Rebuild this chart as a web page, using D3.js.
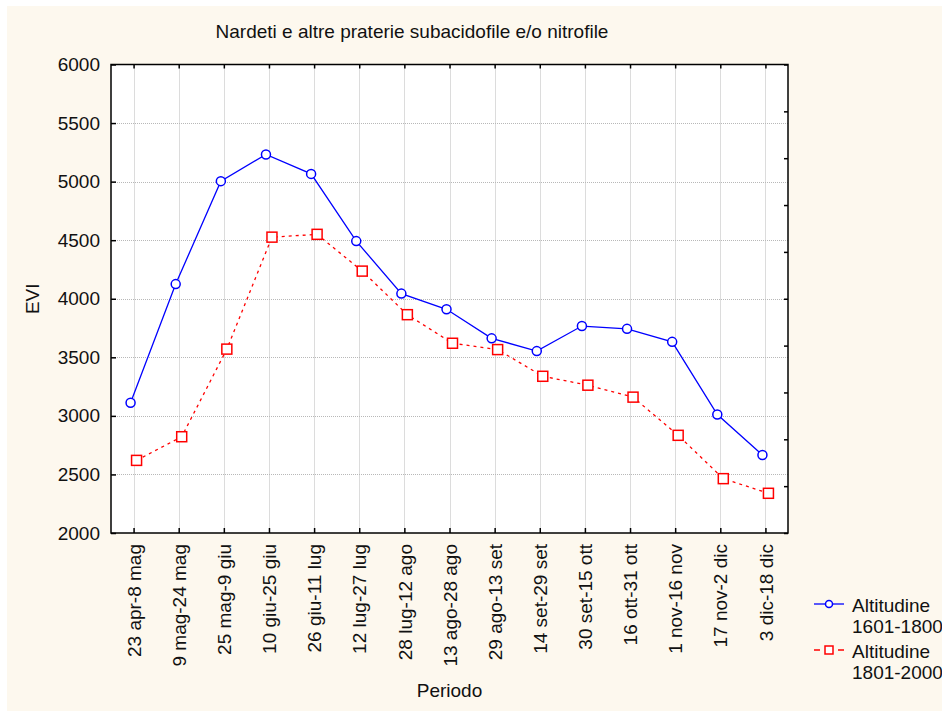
<!DOCTYPE html>
<html>
<head>
<meta charset="utf-8">
<script src="https://cdn.jsdelivr.net/npm/d3@7"></script>
<style>
	body { margin: 0; background: #fff; }
	svg text { font-family: "Liberation Sans", Arial, sans-serif; fill: #111; }
</style>
</head>
<body>
<svg id="chart" width="942" height="711"></svg>
<script>
var periods = ["23 apr-8 mag", "9 mag-24 mag", "25 mag-9 giu", "10 giu-25 giu", "26 giu-11 lug",
	"12 lug-27 lug", "28 lug-12 ago", "13 ago-28 ago", "29 ago-13 set", "14 set-29 set",
	"30 set-15 ott", "16 ott-31 ott", "1 nov-16 nov", "17 nov-2 dic", "3 dic-18 dic"];
var evi1601 = [3112, 4125, 5004, 5232, 5066, 4492, 4044, 3910, 3662, 3553, 3767, 3743, 3632, 3012, 2666];
var evi1801 = [2620, 2822, 3570, 4526, 4550, 4236, 3864, 3620, 3566, 3338, 3262, 3160, 2834, 2464, 2339];
var yTicks = [2000, 2500, 3000, 3500, 4000, 4500, 5000, 5500, 6000];

var svg = d3.select("#chart");
var plotLeft = 111, plotRight = 788, plotTop = 64.5, plotBottom = 533;

// cream background
svg.append("rect")
	.attr("x", 7).attr("y", 6)
	.attr("width", 942 - 7).attr("height", 711 - 6)
	.attr("fill", "#fdf8ee");

var x = d3.scalePoint().domain(periods).range([plotLeft, plotRight]).padding(0.5);
var y = d3.scaleLinear().domain([2000, 6000]).range([plotBottom, plotTop]);

svg.append("rect")
	.attr("x", plotLeft).attr("y", plotTop)
	.attr("width", plotRight - plotLeft).attr("height", plotBottom - plotTop)
	.attr("fill", "#fff");

// grid
var grid = svg.append("g").attr("stroke", "#b8b8b8").attr("stroke-dasharray", "1,1").attr("stroke-width", 1);
grid.selectAll("line.v")
	.data(periods)
	.enter()
	.append("line")
	.attr("x1", function(d) { return Math.round(x(d)) + 0.5; })
	.attr("x2", function(d) { return Math.round(x(d)) + 0.5; })
	.attr("y1", plotTop).attr("y2", plotBottom);
grid.selectAll("line.h")
	.data(yTicks.slice(1, -1))
	.enter()
	.append("line")
	.attr("y1", function(d) { return Math.round(y(d)) + 0.5; })
	.attr("y2", function(d) { return Math.round(y(d)) + 0.5; })
	.attr("x1", plotLeft).attr("x2", plotRight);

// axes
var yAxis = svg.append("g")
	.attr("transform", "translate(" + plotLeft + ",0)")
	.call(d3.axisLeft(y).tickValues(yTicks).tickFormat(d3.format("d")).tickSize(-5).tickPadding(11));
var xAxis = svg.append("g")
	.attr("transform", "translate(0," + plotBottom + ")")
	.call(d3.axisBottom(x).tickSize(-5));
[yAxis, xAxis].forEach(function(a) {
	a.select(".domain").remove();
	a.selectAll(".tick line").attr("stroke", "#000").attr("stroke-width", 1.5);
	a.selectAll(".tick text").attr("font-size", 19).attr("font-family", null);
});
xAxis.selectAll(".tick text")
	.attr("transform", "rotate(-90)")
	.attr("y", 0)
	.attr("x", -11)
	.attr("dy", "0.35em")
	.attr("text-anchor", "end");

// top ticks at categories, right ticks at tenths
svg.append("g")
	.attr("transform", "translate(0," + plotTop + ")")
	.call(d3.axisTop(x).tickSize(-4).tickFormat(""))
	.call(function(g) {
		g.select(".domain").remove();
		g.selectAll(".tick line").attr("stroke-width", 1.5);
	});
var rightScale = d3.scaleLinear().domain([0, 10]).range([plotBottom, plotTop]);
svg.append("g")
	.attr("transform", "translate(" + plotRight + ",0)")
	.call(d3.axisRight(rightScale).ticks(10).tickSize(-4).tickFormat(""))
	.call(function(g) {
		g.select(".domain").remove();
		g.selectAll(".tick line").attr("stroke-width", 1.5);
	});

svg.append("rect")
	.attr("x", plotLeft).attr("y", plotTop)
	.attr("width", plotRight - plotLeft).attr("height", plotBottom - plotTop)
	.attr("fill", "none")
	.attr("stroke", "#000")
	.attr("stroke-width", 1.5);

// series
var series = [
	{name: "1601-1800", values: evi1601, color: "#0000ff", dash: null, shape: "circle", dx: -3},
	{name: "1801-2000", values: evi1801, color: "#ff0000", dash: "3,4", shape: "square", dx: 3}
];

series.forEach(function(s) {
	var line = d3.line()
		.x(function(d, i) { return x(periods[i]) + s.dx; })
		.y(function(d) { return y(d); });
	svg.append("path")
		.datum(s.values)
		.attr("d", line)
		.attr("fill", "none")
		.attr("stroke", s.color)
		.attr("stroke-width", 1.3)
		.attr("stroke-dasharray", s.dash);
	var marks = svg.append("g").selectAll(".mark")
		.data(s.values)
		.enter();
	if (s.shape === "circle") {
		marks.append("circle")
			.attr("cx", function(d, i) { return x(periods[i]) + s.dx; })
			.attr("cy", function(d) { return y(d); })
			.attr("r", 4.5)
			.attr("fill", "#fff")
			.attr("stroke", s.color)
			.attr("stroke-width", 1.5);
	} else {
		marks.append("rect")
			.attr("x", function(d, i) { return x(periods[i]) + s.dx - 5; })
			.attr("y", function(d) { return y(d) - 5; })
			.attr("width", 10).attr("height", 10)
			.attr("fill", "#fff")
			.attr("stroke", s.color)
			.attr("stroke-width", 1.5);
	}
});

// titles
svg.append("text")
	.attr("x", 412).attr("y", 38)
	.attr("text-anchor", "middle")
	.attr("font-size", 19)
	.text("Nardeti e altre praterie subacidofile e/o nitrofile");
svg.append("text")
	.attr("x", (plotLeft + plotRight) / 2).attr("y", 697)
	.attr("text-anchor", "middle")
	.attr("font-size", 19)
	.text("Periodo");
svg.append("text")
	.attr("transform", "translate(39," + (plotTop + plotBottom) / 2 + ") rotate(-90)")
	.attr("text-anchor", "middle")
	.attr("font-size", 19)
	.text("EVI");

// legend
var legend = svg.append("g");
series.forEach(function(s, i) {
	var ly = 604 + i * 46;
	legend.append("line")
		.attr("x1", 814).attr("x2", 844)
		.attr("y1", ly).attr("y2", ly)
		.attr("stroke", s.color)
		.attr("stroke-width", 1.3)
		.attr("stroke-dasharray", s.dash ? "6,6" : null);
	if (s.shape === "circle") {
		legend.append("circle")
			.attr("cx", 829).attr("cy", ly).attr("r", 3.5)
			.attr("fill", "#fff").attr("stroke", s.color).attr("stroke-width", 1.5);
	} else {
		legend.append("rect")
			.attr("x", 825).attr("y", ly - 4).attr("width", 8).attr("height", 8)
			.attr("fill", "#fff").attr("stroke", s.color).attr("stroke-width", 1.5);
	}
	legend.append("text")
		.attr("x", 852).attr("y", ly + 8)
		.attr("font-size", 19)
		.text("Altitudine");
	legend.append("text")
		.attr("x", 852).attr("y", ly + 29)
		.attr("font-size", 19)
		.text(s.name);
});
</script>
</body>
</html>
